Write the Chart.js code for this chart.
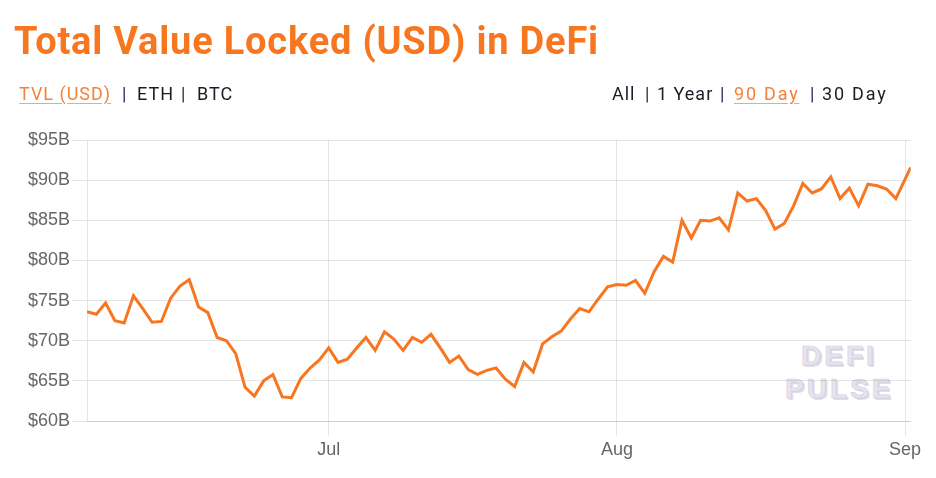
<!DOCTYPE html>
<html>
<head>
<meta charset="utf-8">
<script src="https://cdn.jsdelivr.net/npm/chart.js@4"></script>
<style>
  html, body { margin: 0; padding: 0; background: #fff; }
  #wrap { position: relative; width: 936px; height: 478px; overflow: hidden; }
  #chart { position: absolute; left: 0; top: 0; }
  .title { position: absolute; left: 14px; top: 22px; font: 700 38px/38px Roboto, sans-serif; color: #f7761f; letter-spacing: 0.8px; white-space: nowrap; }
  .w { position: absolute; top: 85px; font: 400 18px/18px Roboto, sans-serif; color: #1c1c28; letter-spacing: 1px; white-space: nowrap; }
  .w.on { color: #f5813a; text-decoration: underline; text-decoration-color: #f9a66e; text-underline-offset: 3px; }
  .w.wide { letter-spacing: 1.8px; }
  .w.sep { color: #2a2a50; letter-spacing: 0; }
  .mark { position: absolute; font: 700 28px/28px "Liberation Sans", Arial, sans-serif; color: #e6e4ee; letter-spacing: 3px;
          -webkit-text-stroke: 0.6px #d4d1e0; text-shadow: 1px 1px 0 #dad7e5, 2px 2px 0 #e0dde9; }
</style>
</head>
<body>
<div id="wrap">
  <div class="mark" style="left:801px; top:342px;">DEFI</div>
  <div class="mark" style="left:785px; top:375px;">PULSE</div>
  <canvas id="chart" width="936" height="478"></canvas>
  <div class="title">Total Value Locked (USD) in DeFi</div>
  <span class="w on" style="left:19px">TVL (USD)</span>
  <span class="w sep" style="left:122px">|</span>
  <span class="w" style="left:137px">ETH</span>
  <span class="w sep" style="left:181px">|</span>
  <span class="w" style="left:197px">BTC</span>
  <span class="w" style="left:612px">All</span>
  <span class="w sep" style="left:645px">|</span>
  <span class="w" style="left:657px">1 Year</span>
  <span class="w sep" style="left:720px">|</span>
  <span class="w on wide" style="left:734px">90 Day</span>
  <span class="w sep" style="left:810px">|</span>
  <span class="w wide" style="left:822px">30 Day</span>
</div>
<script>
// TVL in billions USD, daily from Jun 5, last value is the live reading on Sep 1
const tvl = [
  73.6, 73.3, 74.7, 72.5, 72.2, 75.6, 74.0, 72.3, 72.4, 75.3,
  76.8, 77.6, 74.2, 73.5, 70.4, 70.0, 68.4, 64.2, 63.1, 65.0,
  65.8, 63.0, 62.9, 65.3, 66.6, 67.6, 69.1, 67.3, 67.7, 69.1,
  70.4, 68.8, 71.1, 70.2, 68.8, 70.4, 69.8, 70.8, 69.1, 67.3,
  68.1, 66.4, 65.8, 66.3, 66.6, 65.2, 64.3, 67.3, 66.1, 69.6,
  70.5, 71.2, 72.7, 74.0, 73.6, 75.2, 76.7, 77.0, 76.9, 77.5,
  75.9, 78.6, 80.5, 79.8, 85.0, 82.8, 85.0, 84.9, 85.3, 83.8,
  88.4, 87.4, 87.7, 86.2, 83.9, 84.6, 86.8, 89.6, 88.4, 88.9,
  90.4, 87.7, 89.0, 86.8, 89.5, 89.3, 88.9, 87.7, 91.6
];
// days relative to Jul 1
const firstDay = -26;
const lastDay = 62.6;
const monthTicks = [0, 31, 62];
const monthLabels = ['Jul', 'Aug', 'Sep'];
const yTicks = [60, 65, 70, 75, 80, 85, 90, 95];

const points = tvl.map((v, i) => ({
  x: i === tvl.length - 1 ? lastDay : firstDay + i,
  y: v
}));

const axisFont = {family: "'Liberation Sans', Arial, sans-serif", size: 18};
const gridColor = 'rgba(0,0,0,0.1)';

new Chart(document.getElementById('chart').getContext('2d'), {
  type: 'line',
  data: {
    datasets: [{
      label: 'TVL (USD)',
      data: points,
      borderColor: '#f7761f',
      borderWidth: 3,
      pointRadius: 0,
      tension: 0,
      fill: false
    }]
  },
  options: {
    responsive: false,
    animation: false,
    layout: {padding: {top: 140, right: 25.3, bottom: 0, left: 0}},
    plugins: {legend: {display: false}, tooltip: {enabled: false}},
    scales: {
      x: {
        type: 'linear',
        min: firstDay,
        max: lastDay,
        afterBuildTicks: s => { s.ticks = monthTicks.map(v => ({value: v})); },
        afterFit: s => { s.height = 57; },
        ticks: {
          autoSkip: false,
          maxRotation: 0,
          padding: 3,
          color: '#666',
          font: axisFont,
          callback: v => monthLabels[monthTicks.indexOf(v)]
        },
        grid: {color: gridColor, tickLength: 15},
        border: {color: gridColor}
      },
      y: {
        min: yTicks[0],
        max: yTicks[yTicks.length - 1],
        afterFit: s => { s.width = 87; },
        ticks: {
          stepSize: 5,
          padding: 2,
          color: '#666',
          font: axisFont,
          callback: v => '$' + v + 'B'
        },
        grid: {color: gridColor, tickLength: 15},
        border: {color: gridColor}
      }
    }
  }
});
</script>
</body>
</html>
